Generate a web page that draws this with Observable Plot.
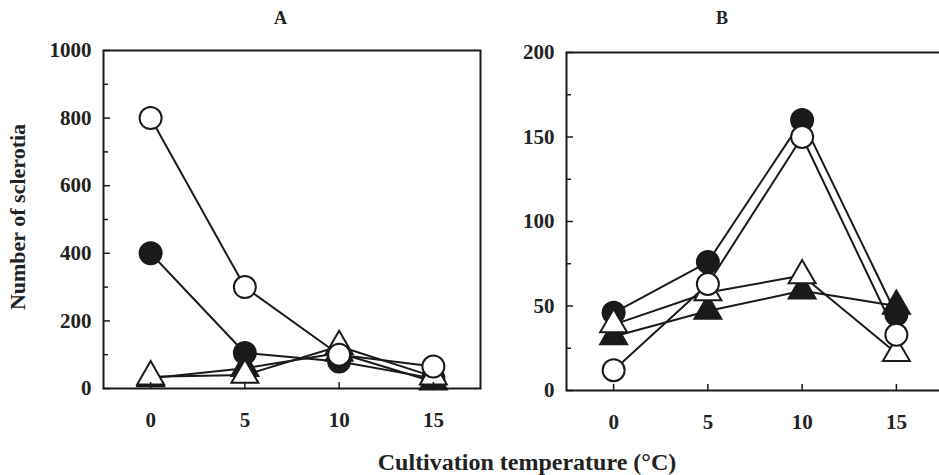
<!DOCTYPE html>
<html>
<head>
<meta charset="utf-8">
<script src="https://cdn.jsdelivr.net/npm/d3@7"></script>
<script src="https://cdn.jsdelivr.net/npm/@observablehq/plot@0.6"></script>
<style>
  html, body { margin: 0; padding: 0; background: #fff; overflow: hidden; }
  #wrap { position: relative; width: 939px; height: 475px; overflow: hidden; font-family: "Liberation Serif", "DejaVu Serif", serif; font-weight: bold; color: #222; }
  .abs { position: absolute; }
  .ttl { font-size: 18px; }
  .lab { font-size: 22px; white-space: nowrap; }
</style>
</head>
<body>
<div id="wrap">
  <div class="abs ttl" style="left:274px; top:8px;">A</div>
  <div class="abs ttl" style="left:716px; top:8px;">B</div>
  <div class="abs lab" id="ylab" style="left:18px; top:217px; transform: translate(-50%,-50%) rotate(-90deg);">Number of sclerotia</div>
  <div class="abs lab" style="left:527px; top:449px; font-size:24px; transform: translateX(-50%);">Cultivation temperature (°C)</div>
</div>
<script>
// ---- data ----
const temps = [0, 5, 10, 15];
const xTicks = [0, 5, 10, 15];

// Panel A
const aFilledCircle   = [400, 105, 80, 30];
const aOpenCircle     = [800, 300, 100, 65];
const aFilledTriangle = [30, 60, 105, 20];
const aOpenTriangle   = [35, 40, 125, 35];
const aYTicks = [0, 200, 400, 600, 800, 1000];
const aYMinor = [100, 300, 500, 700, 900];

// Panel B
const bFilledCircle   = [46, 76, 160, 45];
const bOpenCircle     = [12, 63, 150, 33];
const bFilledTriangle = [32, 47, 59, 50];
const bOpenTriangle   = [39, 58, 68, 22];
const bYTicks = [0, 50, 100, 150, 200];
const bYMinor = [25, 75, 125, 175];

const seriesStyle = [
  {key: "filledCircle", symbol: "circle", fill: "#1a1a1a", r: 11},
  {key: "filledTriangle", symbol: "triangle", fill: "#1a1a1a", r: 10},
  {key: "openTriangle", symbol: "triangle", fill: "white", r: 10},
  {key: "openCircle", symbol: "circle", fill: "white", r: 11}
];

function rows(values) { return temps.map((t, i) => ({t, v: values[i]})); }

const FONT = "Liberation Serif";
const INK = "#1a1a1a";

function panel({series, yDomain, yTicks, yMinor, width, height, mt, mb, ml, mr}) {
  const frameW = width - ml - mr;
  const frameH = height - mt - mb;
  const marks = [];
  for (const s of seriesStyle) {
    marks.push(Plot.line(rows(series[s.key]), {x: "t", y: "v", stroke: INK, strokeWidth: 2}));
  }
  for (const s of seriesStyle) {
    marks.push(Plot.dot(rows(series[s.key]), {x: "t", y: "v", symbol: s.symbol, r: s.r, fill: s.fill, stroke: INK, strokeWidth: 2}));
  }
  marks.push(Plot.frame({stroke: INK, strokeWidth: 2}));
  marks.push(Plot.tickY(yTicks, {y: d => d, insetRight: frameW - 7, stroke: INK, strokeWidth: 1.5}));
  marks.push(Plot.tickY(yMinor, {y: d => d, insetRight: frameW - 5, stroke: INK, strokeWidth: 1.5}));
  marks.push(Plot.tickX(xTicks, {x: d => d, insetTop: frameH - 6, stroke: INK, strokeWidth: 1.5}));
  marks.push(Plot.axisY(yTicks, {tickSize: 0, tickPadding: 12, tickFormat: d => String(d), fontSize: 21, fontWeight: "bold", fontFamily: FONT, fill: "#222"}));
  marks.push(Plot.axisX(xTicks, {tickSize: 0, tickPadding: 24, tickFormat: d => String(d), fontSize: 21, fontWeight: "bold", fontFamily: FONT, fill: "#222"}));
  return Plot.plot({
    width, height,
    marginTop: mt, marginBottom: mb, marginLeft: ml, marginRight: mr,
    x: {domain: [-2.5, 17.5], label: null},
    y: {domain: yDomain, label: null},
    style: {background: "transparent", fontFamily: FONT, overflow: "visible"},
    marks
  });
}

const A = panel({
  series: {filledCircle: aFilledCircle, openCircle: aOpenCircle, filledTriangle: aFilledTriangle, openTriangle: aOpenTriangle},
  yDomain: [0, 1000], yTicks: aYTicks, yMinor: aYMinor,
  width: 500, height: 475, mt: 50, mb: 87, ml: 103, mr: 20
});
const B = panel({
  series: {filledCircle: bFilledCircle, openCircle: bOpenCircle, filledTriangle: bFilledTriangle, openTriangle: bOpenTriangle},
  yDomain: [0, 200], yTicks: bYTicks, yMinor: bYMinor,
  width: 477, height: 475, mt: 52, mb: 85, ml: 100, mr: 0
});
A.style.position = "absolute"; A.style.left = "0px"; A.style.top = "0px";
B.style.position = "absolute"; B.style.left = "466px"; B.style.top = "0px";
const wrap = document.getElementById("wrap");
wrap.insertBefore(B, wrap.firstChild);
wrap.insertBefore(A, wrap.firstChild);
</script>
</body>
</html>
